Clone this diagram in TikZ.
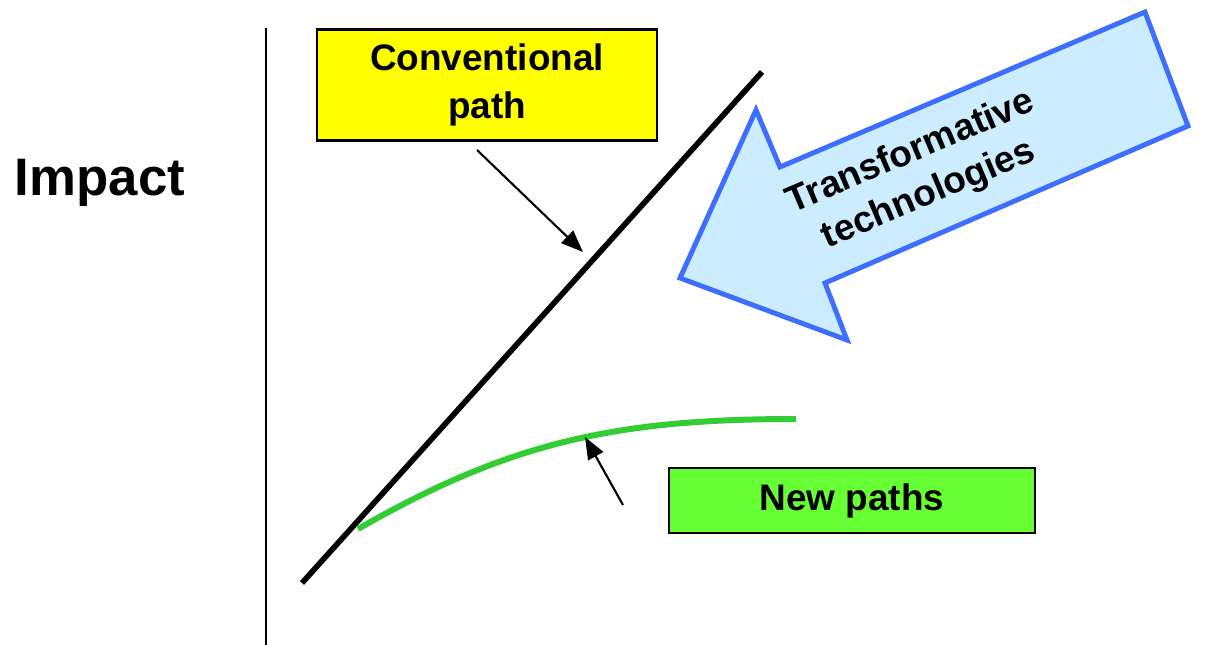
\documentclass[tikz,border=0pt]{standalone}
\usepackage{fontspec}
\setmainfont{Liberation Sans}
\usetikzlibrary{arrows.meta,positioning}

\definecolor{boxyellow}{RGB}{255,255,0}
\definecolor{boxgreen}{RGB}{102,255,51}
\definecolor{pathgreen}{RGB}{51,204,51}
\definecolor{arrowblue}{RGB}{61,110,255}
\definecolor{arrowfill}{RGB}{204,236,255}

\begin{document}
\begin{tikzpicture}[x=0.01cm,y=-0.01cm,
    labelbox/.style={draw=black,line width=0.6pt,inner sep=0pt,align=center,
      font=\bfseries\fontsize{10.5}{13.5}\selectfont},
    pointer/.style={line width=0.6pt,-{Triangle[length=0.22cm,width=0.17cm]}}]

  \useasboundingbox (0,0) rectangle (1217,645);

  % Axis and its label
  \draw[line width=0.6pt] (266,28) -- (266,645);
  \node[font=\bfseries\fontsize{15}{18}\selectfont] (impact) at (100,183) {Impact};

  % The two paths
  \coordinate (conv start) at (302,583);
  \coordinate (conv end) at (762,72);
  \draw[line width=1.6pt] (conv start) -- (conv end);

  \coordinate (new start) at (358,529);
  \coordinate (new end) at (796,419);
  \draw[pathgreen,line width=1.7pt] (new start) .. controls (511,441) and (619,419) .. (new end);

  % The big arrow coming in from the right
  \draw[arrowblue,fill=arrowfill,line width=1.4pt,line join=miter]
    (1145,12) -- (1188,126) -- (825,283) -- (847,340) -- (680,278) -- (756,110) -- (780,167) -- cycle;
  \node[rotate=23,align=center,font=\bfseries\fontsize{10.5}{13}\selectfont] (transform) at (920,174)
    {Transformative\\technologies};

  % Labels with their pointers
  \node[labelbox,fill=boxyellow,minimum width=3.4cm,minimum height=1.11cm] (conventional) at (487,85)
    {Conventional\\path};
  \node[labelbox,fill=boxgreen,minimum width=3.66cm,minimum height=0.65cm] (newpaths) at (852,500.5)
    {New paths};

  \coordinate (conv tail) at (477,150);
  \coordinate (conv tip) at (583,252);
  \draw[pointer] (conv tail) -- (conv tip);

  \coordinate (new tail) at (623,505);
  \coordinate (new tip) at (585,437);
  \draw[pointer] (new tail) -- (new tip);

\end{tikzpicture}
\end{document}
